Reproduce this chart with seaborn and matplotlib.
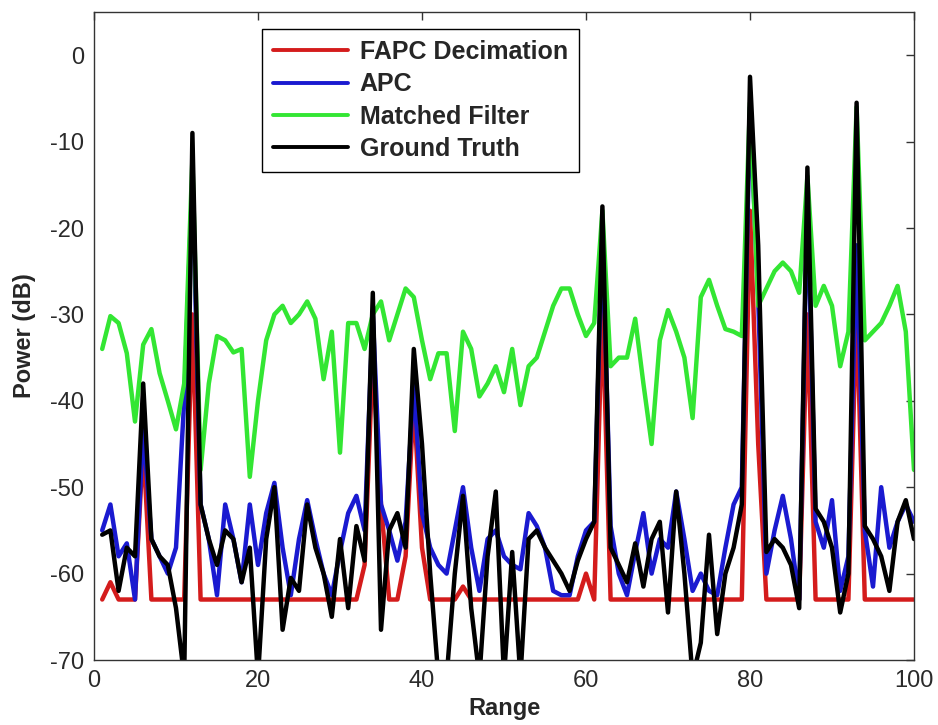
import matplotlib
matplotlib.use("Agg")
import matplotlib.pyplot as plt
import pandas as pd
import seaborn as sns

# Range bins and power (dB) of each estimator
range_bins = list(range(1, 101))

fapc_decimation = [
    -63, -61, -63, -63, -63, -45, -63, -63, -63, -63,
    -63, -30, -63, -63, -63, -63, -63, -63, -63, -63,
    -63, -63, -63, -63, -63, -63, -63, -63, -63, -63,
    -63, -63, -59, -35, -52, -63, -63, -58, -40, -57,
    -63, -63, -63, -63, -61.5, -63, -63, -63, -63, -63,
    -63, -63, -63, -63, -63, -63, -63, -63, -63, -60,
    -63, -29, -63, -63, -63, -63, -63, -63, -63, -63,
    -63, -63, -63, -63, -63, -63, -63, -63, -63, -18,
    -45, -63, -63, -63, -63, -63, -30, -63, -63, -63,
    -63, -63, -29, -63, -63, -63, -63, -63, -63, -63,
]

apc = [
    -55, -52, -58, -56.5, -63, -43, -56, -58, -60, -57,
    -40, -14, -52, -56, -62.5, -52, -56, -61, -52, -59,
    -53, -49.5, -57, -62.5, -56, -51.5, -56, -60, -62.5, -57.5,
    -53, -51, -55, -30, -52, -55, -58.5, -54, -38, -53,
    -57, -59, -60, -55, -50, -57, -62, -56, -55, -58,
    -59, -59.5, -53, -54.5, -57, -62, -62.5, -62.5, -58, -55,
    -54, -20, -54.5, -60, -62.5, -57.5, -53, -60, -56, -57,
    -50.5, -56, -62, -60, -62, -62.5, -57, -52, -50, -6,
    -28, -60, -55, -51, -56, -63, -16, -54, -57, -51.5,
    -62, -58, -22, -55, -61.5, -50, -57, -54, -52, -54,
]

matched_filter = [
    -34, -30.2, -31, -34.5, -42.4, -33.5, -31.7, -36.8, -40, -43.3,
    -38, -12, -48, -38, -32.5, -33, -34.4, -34, -48.8, -40,
    -33, -30, -29, -31, -30, -28.5, -30.5, -37.5, -32, -46,
    -31, -31, -34, -30, -28.5, -33, -30, -27, -28, -33,
    -37.5, -34.5, -34.5, -43.5, -32, -34, -39.5, -38, -36, -39,
    -34, -40.5, -36, -35, -32, -29, -27, -27, -30, -32.5,
    -31, -18, -36, -35, -35, -30.5, -38, -45, -33, -29.5,
    -32, -35, -42, -28, -26, -29, -31.7, -32, -32.5, -5.5,
    -29, -27, -25, -24, -25, -27.5, -14, -29, -26.7, -29,
    -36, -32, -6, -33, -32, -31, -29, -26.7, -32, -48,
]

ground_truth = [
    -55.5, -55, -62, -57, -58, -38, -56, -58, -59, -64,
    -72, -9, -52, -56, -59, -55, -56, -61, -57, -72,
    -56, -50, -66.5, -60.5, -62, -52, -57, -60, -65, -56,
    -64, -54.5, -58.5, -27.5, -66.5, -55, -53, -57, -34, -45,
    -60, -72, -72, -60, -51, -64, -72, -58, -50.5, -72,
    -57.5, -72, -56, -55, -57, -58.5, -60, -62, -58.5, -56,
    -54, -17.5, -57, -59, -61, -56.5, -61.5, -56, -54, -64.5,
    -50.5, -60, -72, -68, -55.5, -67, -60, -57, -52, -2.5,
    -22, -57.5, -56, -57, -59, -64, -13, -52.5, -54, -57,
    -64.5, -60, -5.5, -54.5, -56, -58, -62, -54, -51.5, -56,
]

series_names = ["FAPC Decimation", "APC", "Matched Filter", "Ground Truth"]
series_colors = ["#d41c1c", "#1a1ad0", "#33e633", "#000000"]
x_ticks = [0, 20, 40, 60, 80, 100]
y_ticks = [-70, -60, -50, -40, -30, -20, -10, 0]

sns.set_theme(style="white")
plt.rcParams["font.family"] = ["Liberation Sans", "DejaVu Sans"]
plt.rcParams["axes.unicode_minus"] = False

frames = []
for name, values in zip(series_names,
                        [fapc_decimation, apc, matched_filter, ground_truth]):
    frames.append(pd.DataFrame({"Range": range_bins, "Power": values,
                                "Series": name}))
df = pd.concat(frames, ignore_index=True)

fig, ax = plt.subplots(figsize=(9.38, 7.25), dpi=100)
fig.patch.set_facecolor("white")
fig.subplots_adjust(left=94 / 938, right=914 / 938,
                    bottom=1 - 660 / 725, top=1 - 12 / 725)

sns.lineplot(data=df, x="Range", y="Power", hue="Series",
             hue_order=series_names,
             palette=dict(zip(series_names, series_colors)),
             estimator=None, sort=False, linewidth=3.2, ax=ax)

ax.set_xlim(0, 100)
ax.set_ylim(-70, 5)
ax.set_xticks(x_ticks)
ax.set_yticks(y_ticks)

tick_color = "#2a2a2a"
ax.tick_params(axis="both", which="both", direction="in", length=6,
               width=1, colors="#333333", labelcolor=tick_color,
               labelsize=17, top=True, right=True, pad=7)
for spine in ax.spines.values():
    spine.set_color("#333333")
    spine.set_linewidth(1.0)

ax.set_xlabel("Range", fontsize=17, fontweight="bold", labelpad=4)
ax.set_ylabel("Power (dB)", fontsize=17, fontweight="bold", labelpad=10)

handles, labels = ax.get_legend_handles_labels()
leg = ax.legend(handles, labels, loc="upper left",
                bbox_to_anchor=(0.205, 0.974), borderaxespad=0,
                prop={"weight": "bold", "size": 18},
                frameon=True, fancybox=False, framealpha=1,
                edgecolor="black", borderpad=0.45, handlelength=3.0,
                handletextpad=0.45, labelspacing=0.33)
leg.get_frame().set_linewidth(1.0)
for line in leg.get_lines():
    line.set_linewidth(2.8)

fig.savefig("out.png", dpi=100, facecolor="white")
